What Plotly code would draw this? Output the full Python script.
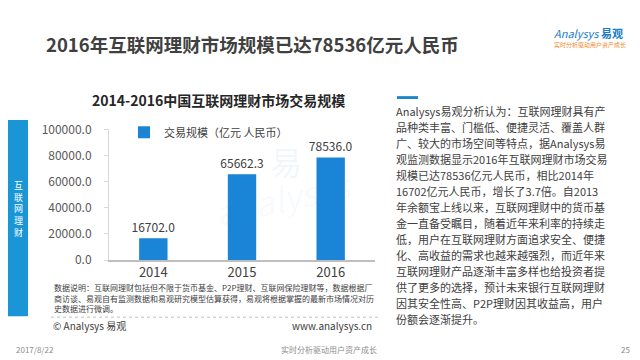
import plotly.graph_objects as go

# ---------------- data ----------------
years = ["2014", "2015", "2016"]
volume = [16702.0, 65662.3, 78536.0]
series_name = "交易规模（亿元 人民币）"
y_ticks = [0, 20000, 40000, 60000, 80000, 100000]

main_title = "2016年互联网理财市场规模已达78536亿元人民币"
chart_title = "2014-2016中国互联网理财市场交易规模"
side_label = "互联网理财"
note_lines = [
    "数据说明：互联网理财包括但不限于货币基金、P2P理财、互联网保险理财等，数据根据厂",
    "商访谈、易观自有监测数据和易观研究模型估算获得，易观将根据掌握的最新市场情况对历",
    "史数据进行微调。",
]
analysis_lines = [
    "Analysys易观分析认为：互联网理财具有产",
    "品种类丰富、门槛低、便捷灵活、覆盖人群",
    "广、较大的市场空间等特点，据Analysys易",
    "观监测数据显示2016年互联网理财市场交易",
    "规模已达78536亿元人民币，相比2014年",
    "16702亿元人民币，增长了3.7倍。自2013",
    "年余额宝上线以来，互联网理财中的货币基",
    "金一直备受瞩目，随着近年来利率的持续走",
    "低，用户在互联网理财方面追求安全、便捷",
    "化、高收益的需求也越来越强烈，而近年来",
    "互联网理财产品逐渐丰富多样也给投资者提",
    "供了更多的选择，预计未来银行互联网理财",
    "因其安全性高、P2P理财因其收益高，用户",
    "份额会逐渐提升。",
]
footer_date = "2017/8/22"
footer_slogan = "实时分析驱动用户资产成长"
footer_page = "25"

W, H = 640, 360
FONT = "Noto Sans CJK SC"


def px(x):
    return x / W


def py(y):
    return 1 - y / H


fig = go.Figure()
fig.add_trace(go.Bar(
    x=years, y=volume, name=series_name,
    marker=dict(color="#1a84d6", line=dict(width=0)),
    texttemplate="%{y:.1f}", textposition="outside",
    constraintext="none",
    textfont=dict(size=12, color="#404040", family=FONT),
    cliponaxis=False, showlegend=True,
))

annotations = []
shapes = []

# main title
annotations.append(dict(x=px(36), y=py(27), xref="paper", yref="paper",
                        text="<b>" + main_title + "</b>", showarrow=False,
                        xanchor="left", yanchor="middle",
                        font=dict(size=18.5, color="#404040", family=FONT)))
# logo
annotations.append(dict(x=px(580), y=py(16), xref="paper", yref="paper",
                        text="<i>Analysys</i> <b>易观</b>", showarrow=False,
                        xanchor="center", yanchor="middle",
                        font=dict(size=11, color="#1a7cc8", family=FONT)))
annotations.append(dict(x=px(582), y=py(28), xref="paper", yref="paper",
                        text="实时分析驱动用户资产成长", showarrow=False,
                        xanchor="center", yanchor="middle",
                        font=dict(size=6, color="#f08c30", family=FONT)))
# chart title
annotations.append(dict(x=px(210), y=py(86), xref="paper", yref="paper",
                        text="<b>" + chart_title + "</b>", showarrow=False,
                        xanchor="center", yanchor="middle",
                        font=dict(size=14, color="#262626", family=FONT)))
# watermark
annotations.append(dict(x=px(278), y=py(150), xref="paper", yref="paper",
                        text="易", showarrow=False,
                        font=dict(size=32, color="rgba(26,132,214,0.07)", family=FONT)))
annotations.append(dict(x=px(200), y=py(188), xref="paper", yref="paper",
                        text="<i>analysys</i>", showarrow=False, textangle=-12,
                        font=dict(size=34, color="rgba(26,132,214,0.05)", family=FONT)))

# left side blue tab
shapes.append(dict(type="rect", xref="paper", yref="paper",
                   x0=px(0), x1=px(20), y0=py(313), y1=py(107),
                   fillcolor="#1a96d6", line=dict(width=0), layer="below"))
annotations.append(dict(x=px(10), y=py(200), xref="paper", yref="paper",
                        text="<br>".join(side_label), showarrow=False,
                        xanchor="center", yanchor="middle",
                        font=dict(size=9, color="white", family=FONT)))

# notes
for i, line in enumerate(note_lines):
    annotations.append(dict(x=px(44), y=py(283 + 11 * i), xref="paper", yref="paper",
                            text=line, showarrow=False, xanchor="left", yanchor="middle",
                            font=dict(size=8, color="#404040", family=FONT)))
shapes.append(dict(type="line", xref="paper", yref="paper",
                   x0=px(43), x1=px(371), y0=py(314), y1=py(314),
                   line=dict(color="#bfbfbf", width=1, dash="dot")))
annotations.append(dict(x=px(43), y=py(323), xref="paper", yref="paper",
                        text="© Analysys 易观", showarrow=False, xanchor="left", yanchor="middle",
                        font=dict(size=10, color="#404040", family=FONT)))
annotations.append(dict(x=px(366), y=py(323), xref="paper", yref="paper",
                        text="www.analysys.cn", showarrow=False, xanchor="right", yanchor="middle",
                        font=dict(size=10, color="#404040", family=FONT)))

# right analysis text
shapes.append(dict(type="rect", xref="paper", yref="paper",
                   x0=px(389), x1=px(410), y0=py(85), y1=py(82),
                   fillcolor="#1a88c8", line=dict(width=0)))
for i, line in enumerate(analysis_lines):
    annotations.append(dict(x=px(386), y=py(97.5 + 16.8 * i), xref="paper", yref="paper",
                            text=line, showarrow=False, xanchor="left", yanchor="middle",
                            font=dict(size=11, color="#404040", family=FONT)))

# footer
annotations.append(dict(x=px(6), y=py(348), xref="paper", yref="paper",
                        text=footer_date, showarrow=False, xanchor="left", yanchor="middle",
                        font=dict(size=8, color="#8c8c8c", family=FONT)))
annotations.append(dict(x=px(321), y=py(348), xref="paper", yref="paper",
                        text=footer_slogan, showarrow=False, xanchor="center", yanchor="middle",
                        font=dict(size=8, color="#8c8c8c", family=FONT)))
annotations.append(dict(x=px(624), y=py(348), xref="paper", yref="paper",
                        text=footer_page, showarrow=False, xanchor="right", yanchor="middle",
                        font=dict(size=8, color="#8c8c8c", family=FONT)))

fig.update_layout(
    width=W, height=H,
    margin=dict(l=0, r=0, t=0, b=0),
    paper_bgcolor="white", plot_bgcolor="white",
    font=dict(family=FONT, color="#404040"),
    bargap=0.68,
    showlegend=True,
    legend=dict(x=px(116), y=py(120), xanchor="left", yanchor="middle",
                orientation="h", bgcolor="rgba(0,0,0,0)",
                font=dict(size=11, color="#404040", family=FONT),
                itemwidth=30),
    xaxis=dict(domain=[px(101), px(367)], anchor="y",
               showline=True, linecolor="#bfbfbf", linewidth=1.5,
               ticks="", showgrid=False,
               tickfont=dict(size=13, color="#404040", family=FONT)),
    yaxis=dict(domain=[py(254), py(117)], anchor="x", range=[0, 100000],
               tickvals=y_ticks, tickformat=".1f",
               showline=True, linecolor="#d9d9d9", linewidth=1,
               ticks="outside", ticklen=4, tickcolor="#d9d9d9",
               ticklabelstandoff=10,
               showgrid=False, zeroline=False,
               tickfont=dict(size=12, color="#595959", family=FONT)),
    annotations=annotations,
    shapes=shapes,
)

fig.write_html("out.html")
